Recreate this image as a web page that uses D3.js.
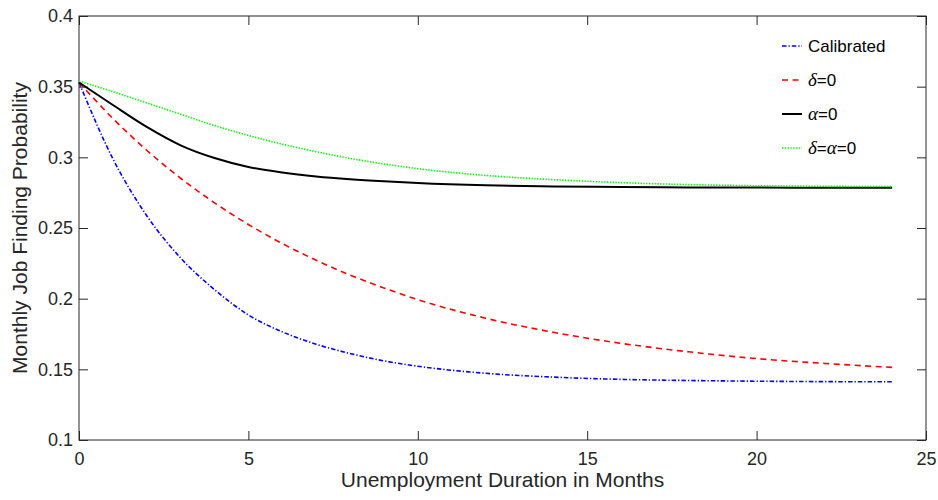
<!DOCTYPE html>
<html>
<head>
<meta charset="utf-8">
<script src="https://cdnjs.cloudflare.com/ajax/libs/d3/7.8.5/d3.min.js"></script>
<style>
  body { margin: 0; background: #fff; }
  svg { display: block; font-family: "Liberation Sans", Arial, sans-serif; }
  .axis text { fill: #262626; font-size: 18px; }
  .axis line { stroke: #262626; }
</style>
</head>
<body>
<script>
// months on the x axis
const months = [0, 1, 2, 3, 4, 5, 6, 7, 8, 9, 10, 12, 14, 16, 18, 20, 22, 24];
const calibrated = [0.353, 0.299, 0.2587, 0.2288, 0.2064, 0.1885, 0.1765, 0.1678, 0.1612, 0.156, 0.1522, 0.1472, 0.1445, 0.1429, 0.1421, 0.1416, 0.1413, 0.1412];
const deltaZero = [0.353, 0.3275, 0.305, 0.2852, 0.2678, 0.2525, 0.239, 0.2272, 0.2167, 0.2076, 0.1993, 0.1862, 0.1762, 0.1684, 0.1624, 0.1576, 0.1542, 0.1514];
const alphaZero = [0.353, 0.337, 0.3215, 0.3085, 0.2995, 0.2932, 0.2893, 0.2865, 0.2845, 0.283, 0.2818, 0.2802, 0.2794, 0.279, 0.2787, 0.2786, 0.2785, 0.2785];
const bothZero = [0.354, 0.3465, 0.3385, 0.3305, 0.3225, 0.3155, 0.3093, 0.304, 0.2993, 0.2953, 0.292, 0.2872, 0.2842, 0.2821, 0.2807, 0.2799, 0.2795, 0.2793];
const xTicks = [0, 5, 10, 15, 20, 25];
const yTicks = [0.1, 0.15, 0.2, 0.25, 0.3, 0.35, 0.4];

const series = [
  { name: "Calibrated", vals: calibrated, color: "#0000ff", width: 1.6, dash: "4.5,2,1.3,2" },
  { name: "δ=0", vals: deltaZero, color: "#ff0000", width: 1.6, dash: "6,4.5" },
  { name: "α=0", vals: alphaZero, color: "#000000", width: 2, dash: null },
  { name: "δ=α=0", vals: bothZero, color: "#00ff00", width: 1.6, dash: "1.4,1.4" }
];

const W = 938, H = 500;
const L = 79, R = 926, T = 16, B = 440;

const svg = d3.select("body").append("svg").attr("width", W).attr("height", H);

const x = d3.scaleLinear().domain([0, 25]).range([L, R]);
const y = d3.scaleLinear().domain([0.1, 0.4]).range([B, T]);

// axes, ticks pointing inward
svg.append("g").attr("class", "axis").attr("transform", `translate(0,${B})`)
  .call(d3.axisBottom(x).tickValues(xTicks).tickSizeInner(-9).tickSizeOuter(0).tickPadding(12).tickFormat(d3.format("d")))
  .call(g => g.select(".domain").remove());
svg.append("g").attr("class", "axis").attr("transform", `translate(0,${T})`)
  .call(d3.axisTop(x).tickValues(xTicks).tickSizeInner(-9).tickSizeOuter(0).tickFormat(""))
  .call(g => g.select(".domain").remove());
svg.append("g").attr("class", "axis").attr("transform", `translate(${L},0)`)
  .call(d3.axisLeft(y).tickValues(yTicks).tickSizeInner(-9).tickSizeOuter(0).tickPadding(6).tickFormat(d => String(+d.toFixed(2))))
  .call(g => g.select(".domain").remove());
svg.append("g").attr("class", "axis").attr("transform", `translate(${R},0)`)
  .call(d3.axisRight(y).tickValues(yTicks).tickSizeInner(-9).tickSizeOuter(0).tickFormat(""))
  .call(g => g.select(".domain").remove());

svg.append("rect")
  .attr("x", L).attr("y", T).attr("width", R - L).attr("height", B - T)
  .attr("fill", "none").attr("stroke", "#262626").attr("stroke-width", 1);

// curves
const line = d3.line()
  .x((d, i) => x(months[i]))
  .y(d => y(d))
  .curve(d3.curveMonotoneX);

series.forEach(s => {
  svg.append("path")
    .attr("d", line(s.vals))
    .attr("fill", "none")
    .attr("stroke", s.color)
    .attr("stroke-width", s.width)
    .attr("stroke-dasharray", s.dash);
});

// axis labels
svg.append("text")
  .attr("x", (L + R) / 2).attr("y", 487)
  .attr("text-anchor", "middle")
  .attr("font-size", "21px").attr("fill", "#262626")
  .text("Unemployment Duration in Months");

svg.append("text")
  .attr("transform", `translate(27,${(T + B) / 2}) rotate(-90)`)
  .attr("text-anchor", "middle")
  .attr("font-size", "21px").attr("fill", "#262626")
  .text("Monthly Job Finding Probability");

// legend
const legend = svg.append("g");
series.forEach((s, i) => {
  const cy = 46 + i * 34;
  legend.append("line")
    .attr("x1", 782).attr("x2", 802).attr("y1", cy).attr("y2", cy)
    .attr("stroke", s.color).attr("stroke-width", s.width)
    .attr("stroke-dasharray", s.dash);
  const t = legend.append("text")
    .attr("x", 808).attr("y", cy + 6)
    .attr("font-size", "17px").attr("fill", "#000");
  // greek letters in italic serif, the rest in sans
  s.name.split(/([δα])/).filter(p => p).forEach(p => {
    const sp = t.append("tspan").text(p);
    if (p === "δ" || p === "α") {
      sp.attr("font-family", "'Liberation Serif', 'Times New Roman', serif")
        .attr("font-style", "italic").attr("font-size", "19px");
    }
  });
});
</script>
</body>
</html>
